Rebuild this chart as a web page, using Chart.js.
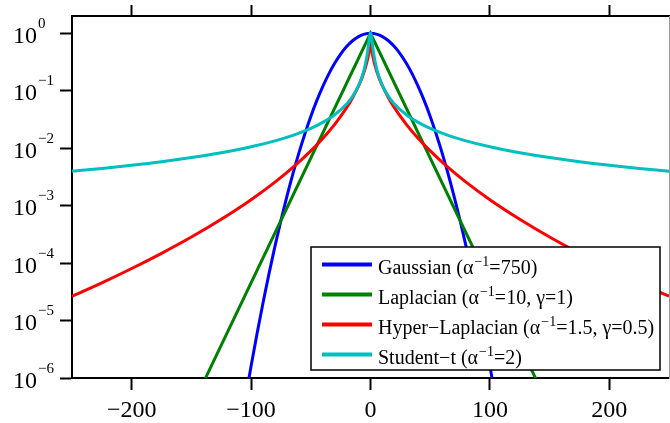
<!DOCTYPE html>
<html>
<head>
<meta charset="utf-8">
<script src="https://cdn.jsdelivr.net/npm/chart.js@4.4.0/dist/chart.umd.min.js"></script>
<style>body{margin:0;background:#fff}</style>
</head>
<body>
<canvas id="priors" width="670" height="423"></canvas>
<script>
// tick labels
const xTicks = [-200, -100, 0, 100, 200];
const yExps = [0, -1, -2, -3, -4, -5, -6];

// Gaussian (alpha^-1 = 750)
const gaussX = [-110, -105, -100, -95, -90, -85, -80, -75, -70, -65, -60, -55, -50, -45, -40, -35, -30, -25, -20, -15, -10, -5,
    0, 5, 10, 15, 20, 25, 30, 35, 40, 45, 50, 55, 60, 65, 70, 75, 80, 85, 90, 95, 100, 105, 110];
const gaussY = [9.85e-8, 4.13e-7, 1.62e-6, 5.94e-6, 2.04e-5, 6.55e-5, 1.97e-4, 5.53e-4, 1.45e-3, 3.58e-3, 8.23e-3, 0.0177, 0.0357, 0.0672, 0.118, 0.195, 0.301, 0.435, 0.587, 0.741, 0.875, 0.967,
    1, 0.967, 0.875, 0.741, 0.587, 0.435, 0.301, 0.195, 0.118, 0.0672, 0.0357, 0.0177, 8.23e-3, 3.58e-3, 1.45e-3, 5.53e-4, 1.97e-4, 6.55e-5, 2.04e-5, 5.94e-6, 1.62e-6, 4.13e-7, 9.85e-8];

// Laplacian (alpha^-1 = 10, gamma = 1), straight in log space
const lapX = [-150, 0, 150];
const lapY = [3.06e-7, 1, 3.06e-7];

// Hyper-Laplacian (alpha^-1 = 1.5, gamma = 0.5)
const hypX = [-250, -225, -200, -175, -150, -125, -100, -80, -65, -50, -40, -30, -20, -15, -10, -7, -4, -2, -1, -0.25,
    0, 0.25, 1, 2, 4, 7, 10, 15, 20, 30, 40, 50, 65, 80, 100, 125, 150, 175, 200, 225, 250];
const hypY = [2.65e-5, 4.54e-5, 8.05e-5, 1.48e-4, 2.84e-4, 5.79e-4, 1.27e-3, 2.57e-3, 4.63e-3, 8.97e-3, 0.01476, 0.026, 0.0507, 0.0756, 0.1215, 0.171, 0.264, 0.39, 0.513, 0.717,
    1, 0.717, 0.513, 0.39, 0.264, 0.171, 0.1215, 0.0756, 0.0507, 0.026, 0.01476, 8.97e-3, 4.63e-3, 2.57e-3, 1.27e-3, 5.79e-4, 2.84e-4, 1.48e-4, 8.05e-5, 4.54e-5, 2.65e-5];

// Student-t (alpha^-1 = 2)
const stuX = [-250, -225, -200, -175, -150, -125, -100, -80, -65, -50, -40, -30, -20, -15, -10, -7, -5, -3, -2, -1, -0.5, -0.25,
    0, 0.25, 0.5, 1, 2, 3, 5, 7, 10, 15, 20, 30, 40, 50, 65, 80, 100, 125, 150, 175, 200, 225, 250];
const stuY = [3.98e-3, 4.45e-3, 5.05e-3, 5.82e-3, 6.87e-3, 8.34e-3, 0.01059, 0.01343, 0.01677, 0.0222, 0.0282, 0.0383, 0.0589, 0.0799, 0.1225, 0.1774, 0.249, 0.402, 0.556, 0.805, 0.939, 0.9837,
    1, 0.9837, 0.939, 0.805, 0.556, 0.402, 0.249, 0.1774, 0.1225, 0.0799, 0.0589, 0.0383, 0.0282, 0.0222, 0.01677, 0.01343, 0.01059, 8.34e-3, 6.87e-3, 5.82e-3, 5.05e-3, 4.45e-3, 3.98e-3];

// legend text: name + alpha, superscript, rest
const legendMain = ['Gaussian (\u03B1', 'Laplacian (\u03B1', 'Hyper\u2212Laplacian (\u03B1', 'Student\u2212t (\u03B1'];
const legendSup = ['\u22121', '\u22121', '\u22121', '\u22121'];
const legendRest = ['=750)', '=10, \u03B3=1)', '=1.5, \u03B3=0.5)', '=2)'];
const colors = ['#0000ff', '#008000', '#ff0000', '#00bfbf'];

const serif = '"Liberation Serif", "DejaVu Serif", serif';

function pts(xs, ys) {
    return xs.map((x, i) => ({x: x, y: ys[i]}));
}

const decorations = {
    id: 'decorations',
    afterDraw(chart) {
        const ctx = chart.ctx;
        const ys = chart.scales.y;
        ctx.save();
        ctx.fillStyle = '#000';
        ctx.textAlign = 'left';
        ctx.textBaseline = 'alphabetic';
        // y tick labels 10^n
        yExps.forEach(e => {
            const py = ys.getPixelForValue(Math.pow(10, e));
            ctx.font = '24px ' + serif;
            ctx.fillText('10', 13, py + 9.5);
            const w = ctx.measureText('10').width;
            ctx.font = '15px ' + serif;
            ctx.fillText(e === 0 ? '0' : '\u2212' + (-e), 13 + w + 1, py - 5.5);
        });

        // legend box
        const bx = 311, by = 247, bw = 349, bh = 123;
        ctx.fillStyle = '#fff';
        ctx.fillRect(bx, by, bw, bh);
        ctx.strokeStyle = '#000';
        ctx.lineWidth = 1.5;
        ctx.strokeRect(bx, by, bw, bh);
        legendMain.forEach((txt, i) => {
            const ry = 264.5 + i * 30;
            ctx.strokeStyle = colors[i];
            ctx.lineWidth = 4;
            ctx.beginPath();
            ctx.moveTo(322, ry);
            ctx.lineTo(372, ry);
            ctx.stroke();
            ctx.fillStyle = '#000';
            let x = 378;
            ctx.font = '20px ' + serif;
            ctx.fillText(txt, x, ry + 9);
            x += ctx.measureText(txt).width + 1;
            ctx.font = '14px ' + serif;
            ctx.fillText(legendSup[i], x, ry + 1);
            x += ctx.measureText(legendSup[i]).width;
            ctx.font = '20px ' + serif;
            ctx.fillText(legendRest[i], x, ry + 9);
        });
        ctx.restore();
    }
};

const fixTicksX = s => { s.ticks = xTicks.map(v => ({value: v})); };

let ctx = document.getElementById('priors').getContext('2d');
new Chart(ctx, {
    type: 'line',
    data: {
        datasets: [
            {label: 'Gaussian', data: pts(gaussX, gaussY), borderColor: colors[0], order: 4, cubicInterpolationMode: 'monotone'},
            {label: 'Laplacian', data: pts(lapX, lapY), borderColor: colors[1], order: 3, tension: 0},
            {label: 'Hyper-Laplacian', data: pts(hypX, hypY), borderColor: colors[2], order: 2, cubicInterpolationMode: 'monotone'},
            {label: 'Student-t', data: pts(stuX, stuY), borderColor: colors[3], order: 1, cubicInterpolationMode: 'monotone'}
        ]
    },
    options: {
        responsive: false,
        animation: false,
        devicePixelRatio: 1,
        layout: {padding: 0},
        elements: {
            point: {radius: 0},
            line: {borderWidth: 3, fill: false}
        },
        plugins: {
            legend: {display: false},
            tooltip: {enabled: false}
        },
        scales: {
            x: {
                type: 'linear',
                position: 'bottom',
                min: -250,
                max: 250,
                afterBuildTicks: fixTicksX,
                afterFit: s => { s.height = 45; },
                ticks: {
                    color: '#000',
                    font: {family: serif, size: 24},
                    padding: 6,
                    maxRotation: 0,
                    autoSkip: false,
                    callback: v => v < 0 ? '\u2212' + Math.abs(v) : String(v)
                },
                grid: {drawOnChartArea: false, tickLength: 12, tickWidth: 2, tickColor: '#000'},
                border: {color: '#000', width: 2}
            },
            xTop: {
                type: 'linear',
                position: 'top',
                min: -250,
                max: 250,
                afterBuildTicks: fixTicksX,
                afterFit: s => { s.height = 16; },
                ticks: {display: false},
                grid: {drawOnChartArea: false, tickLength: 11, tickWidth: 2, tickColor: '#000'},
                border: {color: '#000', width: 2}
            },
            y: {
                type: 'logarithmic',
                position: 'left',
                min: 1e-6,
                max: 2,
                afterBuildTicks: s => { s.ticks = yExps.map(e => ({value: Math.pow(10, e)})); },
                afterFit: s => { s.width = 72; },
                ticks: {display: false},
                grid: {drawOnChartArea: false, tickLength: 12, tickWidth: 2, tickColor: '#000'},
                border: {color: '#000', width: 2}
            },
            yRight: {
                type: 'logarithmic',
                position: 'right',
                min: 1e-6,
                max: 2,
                afterFit: s => { s.width = 1; },
                ticks: {display: false},
                grid: {display: false},
                border: {color: '#999', width: 1}
            }
        }
    },
    plugins: [decorations]
});
</script>
</body>
</html>
